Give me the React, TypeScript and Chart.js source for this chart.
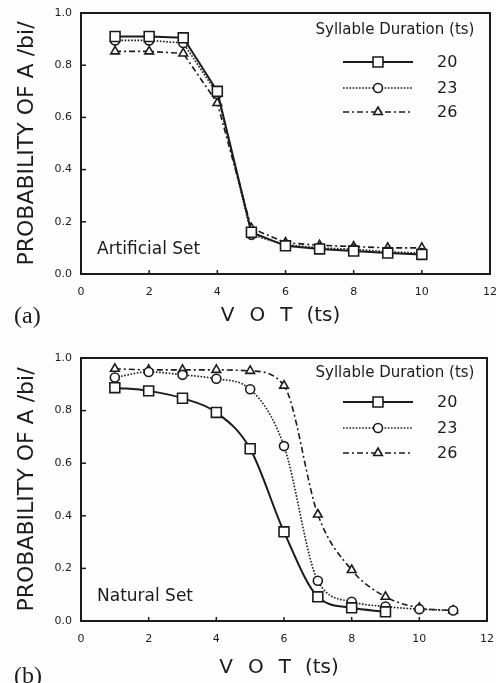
import React, { useEffect, useRef } from 'react';
import { Chart, registerables } from 'chart.js';

Chart.register(...registerables);

// ---------- data ----------
const durations = ['20', '23', '26'];
const xTicks = [0, 2, 4, 6, 8, 10, 12];
const yTicks = [0, 0.2, 0.4, 0.6, 0.8, 1.0];

const votArtificial = [1, 2, 3, 4, 5, 6, 7, 8, 9, 10];
const artificial20 = [0.91, 0.91, 0.905, 0.70, 0.16, 0.108, 0.096, 0.088, 0.08, 0.075];
const artificial23 = [0.895, 0.895, 0.885, 0.69, 0.15, 0.112, 0.10, 0.095, 0.085, 0.08];
const artificial26 = [0.853, 0.853, 0.845, 0.655, 0.175, 0.12, 0.11, 0.105, 0.1, 0.1];

const votNatural20 = [1, 2, 3, 4, 5, 6, 7, 8, 9];
const natural20 = [0.887, 0.875, 0.847, 0.793, 0.655, 0.339, 0.092, 0.05, 0.035];
const votNatural23 = [1, 2, 3, 4, 5, 6, 7, 8, 9, 10, 11];
const natural23 = [0.926, 0.947, 0.936, 0.921, 0.881, 0.665, 0.153, 0.073, 0.055, 0.045, 0.04];
const votNatural26 = [1, 2, 3, 4, 5, 6, 7, 8, 9, 10, 11];
const natural26 = [0.959, 0.955, 0.955, 0.955, 0.951, 0.895, 0.405, 0.194, 0.092, 0.05, 0.04];

const FONT = "'DejaVu Sans', 'Noto Sans', sans-serif";
const INK = '#1b1b1b';
const BG = '#fdfdfd';

const styles = [
  { pointStyle: 'rect', pointRadius: 7, borderDash: [] as number[], borderWidth: 2 },
  { pointStyle: 'circle', pointRadius: 4.5, borderDash: [1.6, 1.6], borderWidth: 1.6 },
  { pointStyle: 'triangle', pointRadius: 5, borderDash: [6, 3, 2, 3], borderWidth: 1.6 },
];

function toXY(xs: number[], ys: number[]) {
  return xs.map((x, i) => ({ x, y: ys[i] }));
}

function makeDatasets(series: { x: number[]; y: number[] }[], smooth: boolean) {
  return series.map((s, i) => ({
    label: durations[i],
    data: toXY(s.x, s.y),
    borderColor: INK,
    backgroundColor: BG,
    pointBackgroundColor: BG,
    pointBorderColor: INK,
    pointBorderWidth: 1.6,
    pointStyle: styles[i].pointStyle,
    pointRadius: styles[i].pointRadius,
    borderDash: styles[i].borderDash,
    borderWidth: styles[i].borderWidth,
    cubicInterpolationMode: smooth ? 'monotone' : 'default',
    tension: 0,
    fill: false,
  }));
}

function drawMarker(ctx: CanvasRenderingContext2D, style: string, x: number, y: number, r: number) {
  ctx.save();
  ctx.setLineDash([]);
  ctx.fillStyle = BG;
  ctx.strokeStyle = INK;
  ctx.lineWidth = 1.6;
  ctx.beginPath();
  if (style === 'rect') {
    const s = Math.SQRT1_2 * r;
    ctx.rect(x - s, y - s, 2 * s, 2 * s);
  } else if (style === 'circle') {
    ctx.arc(x, y, r, 0, Math.PI * 2);
  } else {
    ctx.moveTo(x, y - r);
    ctx.lineTo(x + r * 0.866, y + r * 0.5);
    ctx.lineTo(x - r * 0.866, y + r * 0.5);
    ctx.closePath();
  }
  ctx.fill();
  ctx.stroke();
  ctx.restore();
}

const framePlugin = {
  id: 'frameAndLegend',
  afterDraw(chart: any, _args: any, opts: any) {
    const { ctx, chartArea } = chart;
    const { left, right, top, bottom } = chartArea;
    ctx.save();
    // frame
    ctx.strokeStyle = INK;
    ctx.lineWidth = 2;
    ctx.setLineDash([]);
    ctx.strokeRect(left, top, right - left, bottom - top);
    // inward ticks
    ctx.lineWidth = 1.5;
    const xs = chart.scales.x;
    const ys = chart.scales.y;
    xTicks.forEach((v) => {
      const px = xs.getPixelForValue(v);
      ctx.beginPath();
      ctx.moveTo(px, bottom);
      ctx.lineTo(px, bottom - 4);
      ctx.stroke();
    });
    yTicks.forEach((v) => {
      const py = ys.getPixelForValue(v);
      ctx.beginPath();
      ctx.moveTo(left, py);
      ctx.lineTo(left + 5, py);
      ctx.stroke();
    });

    // set label
    ctx.fillStyle = INK;
    ctx.font = `17px ${FONT}`;
    ctx.textAlign = 'left';
    ctx.textBaseline = 'middle';
    ctx.fillText(opts.setLabel, left + 16, bottom - 24);

    // legend
    const lx1 = 343, lx2 = 413, lxm = 378, tx = 437;
    ctx.font = `15px ${FONT}`;
    ctx.textAlign = 'center';
    ctx.fillText('Syllable Duration (ts)', 395, top + opts.legendTitle);
    chart.data.datasets.forEach((ds: any, i: number) => {
      const y = top + opts.legendRows[i];
      ctx.save();
      ctx.strokeStyle = INK;
      ctx.lineWidth = ds.borderWidth;
      ctx.setLineDash(ds.borderDash || []);
      ctx.beginPath();
      ctx.moveTo(lx1, y);
      ctx.lineTo(lx2, y);
      ctx.stroke();
      ctx.restore();
      drawMarker(ctx, ds.pointStyle, lxm, y, ds.pointRadius);
      ctx.fillStyle = INK;
      ctx.font = `16px ${FONT}`;
      ctx.textAlign = 'left';
      ctx.fillText(ds.label, tx, y + 1);
    });
    ctx.restore();
  },
};

type PanelProps = {
  height: number;
  padTop: number;
  padRight: number;
  plotBottom: number;
  xTitleOffset: number;
  datasets: any[];
  setLabel: string;
  legendTitle: number;
  legendRows: number[];
  tag: string;
  tagTop: number;
};

function Panel(p: PanelProps) {
  const ref = useRef<HTMLCanvasElement | null>(null);
  useEffect(() => {
    if (!ref.current) return;
    const chart = new Chart(ref.current, {
      type: 'line',
      data: { datasets: p.datasets },
      options: {
        responsive: false,
        animation: false,
        events: [],
        layout: { padding: { top: p.padTop, right: p.padRight, left: 0, bottom: 0 }, autoPadding: false },
        plugins: {
          legend: { display: false },
          tooltip: { enabled: false },
          frameAndLegend: { setLabel: p.setLabel, legendTitle: p.legendTitle, legendRows: p.legendRows },
        } as any,
        scales: {
          x: {
            type: 'linear',
            min: 0,
            max: 12,
            grid: { display: false, drawTicks: false },
            border: { display: false },
            ticks: {
              stepSize: 2,
              padding: 12,
              color: INK,
              maxRotation: 0,
              font: { family: FONT, size: 11 },
            },
            title: {
              display: true,
              text: 'V\u2002\u2005O\u2002\u2005T\u2002\u2009(ts)\u2002',
              color: INK,
              font: { family: FONT, size: 20, lineHeight: 1 },
              padding: { top: 0, bottom: p.xTitleOffset },
            },
            afterFit: (s: any) => {
              s.height = p.height - p.plotBottom;
              s.paddingLeft = 0;
              s.paddingRight = 0;
            },
          },
          y: {
            type: 'linear',
            min: 0,
            max: 1,
            grid: { display: false, drawTicks: false },
            border: { display: false },
            ticks: {
              stepSize: 0.2,
              padding: 9,
              color: INK,
              font: { family: FONT, size: 11 },
              callback: (v: any) => Number(v).toFixed(1),
            },
            title: {
              display: true,
              text: 'PROBABILITY OF A /bi/',
              color: INK,
              font: { family: FONT, size: 22, lineHeight: 1 },
              padding: { top: 16, bottom: 0 },
            },
            afterFit: (s: any) => {
              s.width = 81;
              s.paddingTop = 0;
              s.paddingBottom = 0;
            },
          },
        },
      } as any,
      plugins: [framePlugin as any],
    });
    return () => chart.destroy();
  }, []);
  return (
    <div style={{ position: 'relative', width: 496, height: p.height }}>
      <canvas ref={ref} width={496} height={p.height} style={{ display: 'block' }} />
      <span
        style={{
          position: 'absolute',
          left: 14,
          top: p.tagTop,
          fontFamily: "'Liberation Serif', 'DejaVu Serif', serif",
          fontSize: 24,
          lineHeight: '24px',
          color: INK,
        }}
      >
        {p.tag}
      </span>
    </div>
  );
}

export default function App() {
  const dsA = makeDatasets(
    [
      { x: votArtificial, y: artificial20 },
      { x: votArtificial, y: artificial23 },
      { x: votArtificial, y: artificial26 },
    ],
    false
  );
  const dsB = makeDatasets(
    [
      { x: votNatural20, y: natural20 },
      { x: votNatural23, y: natural23 },
      { x: votNatural26, y: natural26 },
    ],
    true
  );
  return (
    <div style={{ position: 'fixed', left: 0, top: 0, width: 496, height: 683, background: BG, overflow: 'hidden' }}>
      <Panel
        height={330}
        padTop={13}
        padRight={6}
        plotBottom={274}
        xTitleOffset={4}
        datasets={dsA}
        setLabel="Artificial Set"
        legendTitle={17}
        legendRows={[49, 75, 99]}
        tag="(a)"
        tagTop={303}
      />
      <Panel
        height={353}
        padTop={28}
        padRight={9}
        plotBottom={291}
        xTitleOffset={5}
        datasets={dsB}
        setLabel="Natural Set"
        legendTitle={15}
        legendRows={[44, 70, 95]}
        tag="(b)"
        tagTop={333}
      />
    </div>
  );
}
